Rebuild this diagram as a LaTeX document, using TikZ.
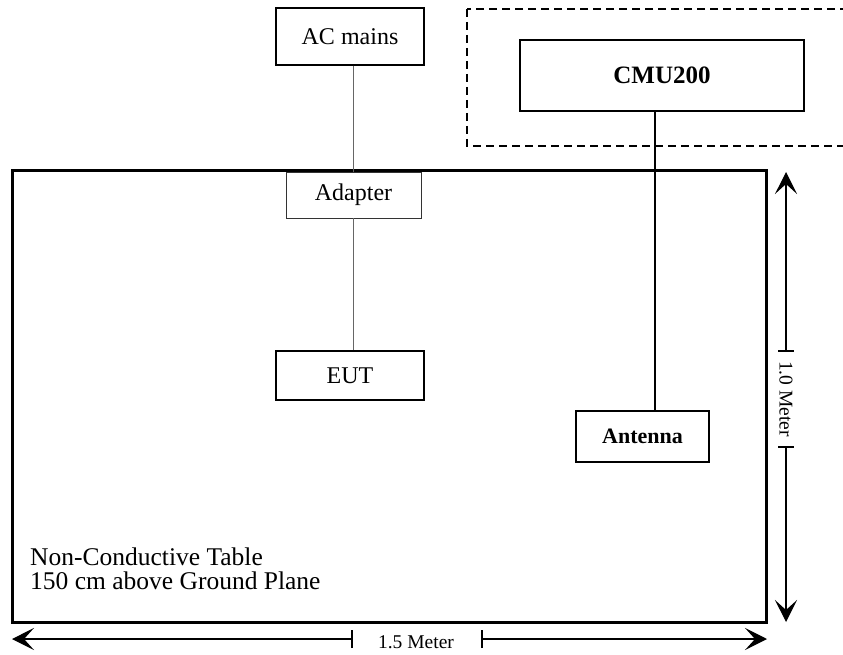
\documentclass[tikz,border=0pt]{standalone}
\usepackage{fontspec}
\setmainfont{Liberation Serif}
\usetikzlibrary{arrows.meta}
\begin{document}
\begin{tikzpicture}[x=1pt,y=-1pt,
  box/.style={draw,line width=1.4pt,rectangle,inner sep=0pt,font=\fontsize{24}{28}\selectfont},
  thinbox/.style={draw,line width=0.8pt,draw=black!80,rectangle,inner sep=0pt,font=\fontsize{24}{28}\selectfont},
  dimline/.style={line width=1.3pt},
  dimtip/.style={-{Stealth[length=22pt,width=22pt,inset=10pt]}},
  tick/.style={line width=1.3pt},
  dimlabel/.style={inner sep=0pt,font=\fontsize{19.5}{22}\selectfont}]
\useasboundingbox (0,0) rectangle (843,655);
% table
\node[draw,line width=3pt,minimum width=754pt,minimum height=451pt,inner sep=0pt] (table) at (389,396.5) {};
\node[anchor=north west,inner sep=0pt,align=left,font=\fontsize{25.5}{24}\selectfont] (tabletxt) at (30,548) {Non-Conductive Table\\150 cm above Ground Plane};
% dashed enclosure
\draw[line width=1.5pt,dash pattern=on 8pt off 5pt] (467,9) rectangle (852,146);
% boxes
\node[box,minimum width=148pt,minimum height=57pt] (ac) at (350,36.5) {AC mains};
\node[thinbox,fill=white,minimum width=135pt,minimum height=46pt] (adapter) at (353.5,195) {Adapter};
\node[box,minimum width=148pt,minimum height=49pt] (eut) at (350,375.5) {EUT};
\node[box,minimum width=284pt,minimum height=71pt,font=\fontsize{25}{28}\selectfont\bfseries] (cmu) at (662,75.5) {CMU200};
\node[box,minimum width=133pt,minimum height=51pt,font=\fontsize{22}{26}\selectfont\bfseries] (ant) at (642.5,436.5) {Antenna};
% connectors
\coordinate (cx) at (655,0);
\draw[line width=0.9pt,black!60] (ac.south -| adapter.north) -- (adapter.north);
\draw[line width=0.9pt,black!60] (adapter.south) -- (eut.north -| adapter.south);
\draw[line width=1.8pt] (cmu.south -| cx) -- (ant.north -| cx);
% vertical dimension
\coordinate (vt) at (786,172);
\coordinate (vt1) at (786,351);
\coordinate (vt2) at (786,447);
\coordinate (vb) at (786,622);
\draw[dimline,dimtip] (vt1) -- (vt);
\draw[dimline,dimtip] (vt2) -- (vb);
\draw[tick] ([xshift=-8pt]vt1) -- ([xshift=8pt]vt1);
\draw[tick] ([xshift=-8pt]vt2) -- ([xshift=8pt]vt2);
\node[dimlabel,rotate=-90] (vlab) at (786,399) {1.0 Meter};
% horizontal dimension
\coordinate (hl) at (12,639);
\coordinate (hl1) at (352,639);
\coordinate (hl2) at (482,639);
\coordinate (hr) at (767,639);
\draw[dimline,dimtip] (hl1) -- (hl);
\draw[dimline,dimtip] (hl2) -- (hr);
\draw[tick] ([yshift=-9pt]hl1) -- ([yshift=9pt]hl1);
\draw[tick] ([yshift=-9pt]hl2) -- ([yshift=9pt]hl2);
\node[dimlabel] (hlab) at (416,642) {1.5 Meter};
\end{tikzpicture}
\end{document}
